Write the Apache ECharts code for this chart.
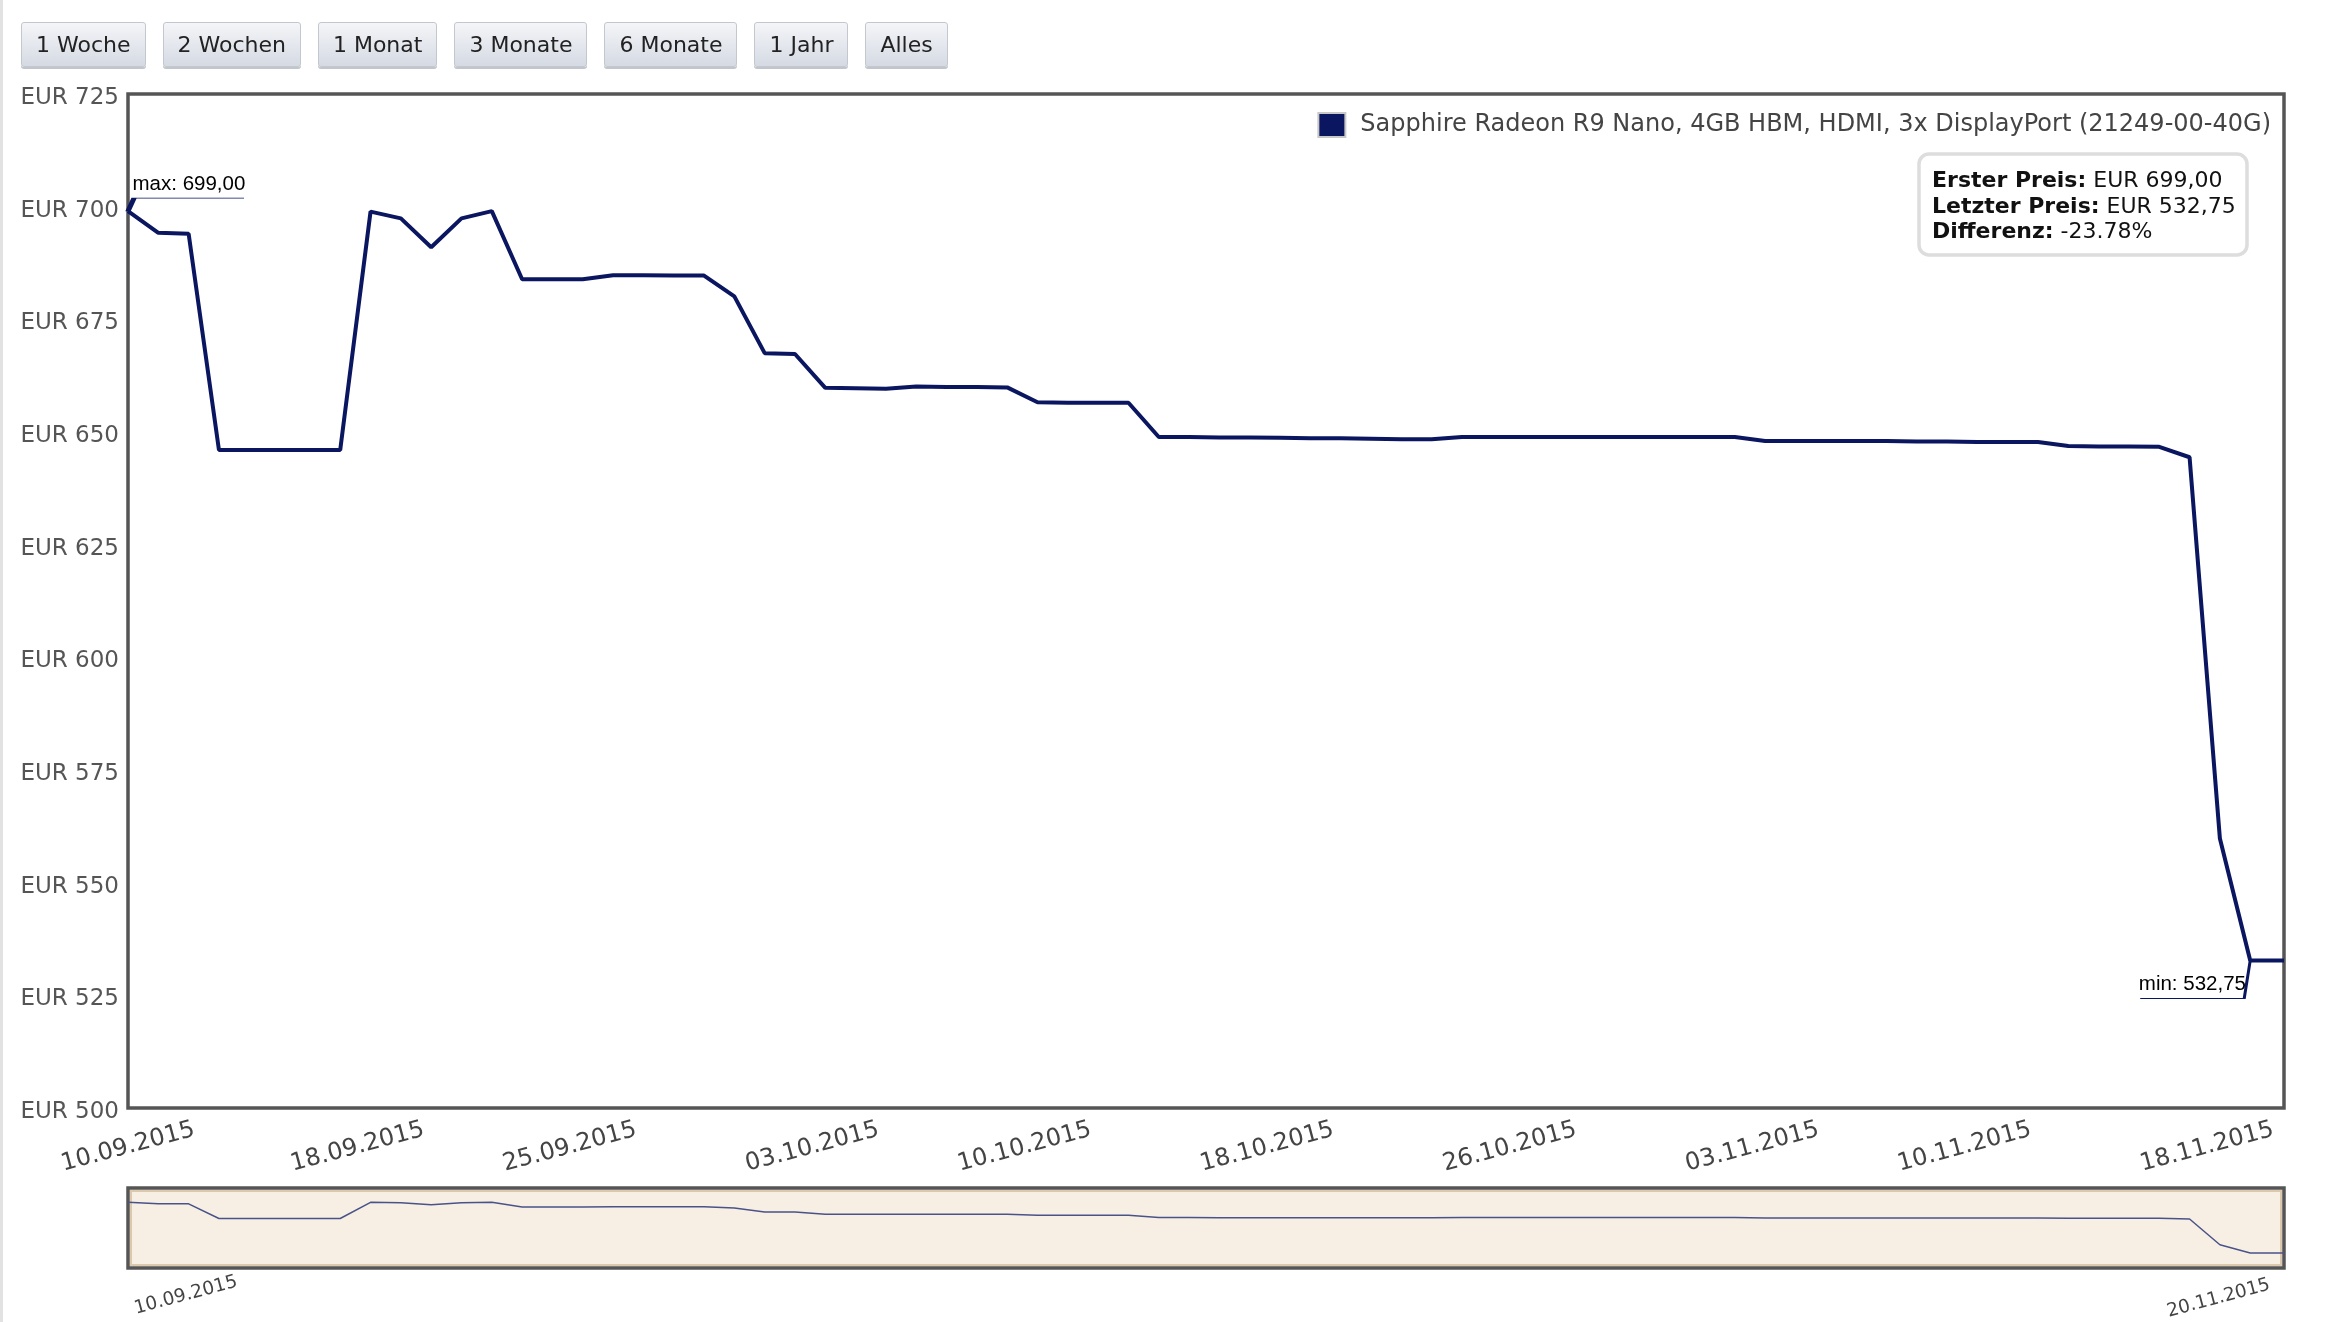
<!DOCTYPE html>
<html>
<head>
<meta charset="utf-8">
<title>Preisverlauf</title>
<script src="https://cdn.jsdelivr.net/npm/echarts@6/dist/echarts.min.js"></script>
<style>
  html, body { margin: 0; padding: 0; background: #fff; }
  body { width: 2336px; height: 1322px; position: relative; overflow: hidden; }
  #chart { position: absolute; left: 0; top: 0; width: 2336px; height: 1322px; }
  #edge { position: absolute; left: 0; top: 0; width: 3px; height: 1322px; background: #e2e2e2; }
  #ranges { position: absolute; left: 21px; top: 22px; display: flex; gap: 17px; }
  .btn {
    height: 45px; line-height: 43px; box-sizing: border-box; padding: 0 14px;
    font-family: "DejaVu Sans", sans-serif; font-size: 22px; color: #222;
    border: 1.5px solid #c3c8d0; border-radius: 3px;
    background: linear-gradient(#f4f5f8, #d5dae3);
    box-shadow: 0 2px 0 #c2c6cc;
  }
</style>
</head>
<body>
<div id="chart"></div>
<div id="edge"></div>
<div id="ranges"></div>
<script>
// Preisverlauf Sapphire Radeon R9 Nano
const seriesName = 'Sapphire Radeon R9 Nano, 4GB HBM, HDMI, 3x DisplayPort (21249-00-40G)';
const rangeButtons = ['1 Woche', '2 Wochen', '1 Monat', '3 Monate', '6 Monate', '1 Jahr', 'Alles'];

const dates = [
  '2015-09-10 10:15', '2015-09-11 10:15', '2015-09-12 10:15', '2015-09-13 10:15', '2015-09-14 10:15',
  '2015-09-15 10:15', '2015-09-16 10:15', '2015-09-17 10:15', '2015-09-18 10:15', '2015-09-19 10:15',
  '2015-09-20 10:15', '2015-09-21 10:15', '2015-09-22 10:15', '2015-09-23 10:15', '2015-09-24 10:15',
  '2015-09-25 10:15', '2015-09-26 10:15', '2015-09-27 10:15', '2015-09-28 10:15', '2015-09-29 10:15',
  '2015-09-30 10:15', '2015-10-01 10:15', '2015-10-02 10:15', '2015-10-03 10:15', '2015-10-04 10:15',
  '2015-10-05 10:15', '2015-10-06 10:15', '2015-10-07 10:15', '2015-10-08 10:15', '2015-10-09 10:15',
  '2015-10-10 10:15', '2015-10-11 10:15', '2015-10-12 10:15', '2015-10-13 10:15', '2015-10-14 10:15',
  '2015-10-15 10:15', '2015-10-16 10:15', '2015-10-17 10:15', '2015-10-18 10:15', '2015-10-19 10:15',
  '2015-10-20 10:15', '2015-10-21 10:15', '2015-10-22 10:15', '2015-10-23 10:15', '2015-10-24 10:15',
  '2015-10-25 10:15', '2015-10-26 10:15', '2015-10-27 10:15', '2015-10-28 10:15', '2015-10-29 10:15',
  '2015-10-30 10:15', '2015-10-31 10:15', '2015-11-01 10:15', '2015-11-02 10:15', '2015-11-03 10:15',
  '2015-11-04 10:15', '2015-11-05 10:15', '2015-11-06 10:15', '2015-11-07 10:15', '2015-11-08 10:15',
  '2015-11-09 10:15', '2015-11-10 10:15', '2015-11-11 10:15', '2015-11-12 10:15', '2015-11-13 10:15',
  '2015-11-14 10:15', '2015-11-15 10:15', '2015-11-16 10:15', '2015-11-17 10:15', '2015-11-18 10:15',
  '2015-11-19 10:15', '2015-11-20 13:00'
];

const prices = [
  699.00, 694.2, 694.0, 646.0, 646.0, 646.0, 646.0, 646.0, 698.9, 697.4,
  691.0, 697.4, 699.0, 683.9, 683.9, 683.9, 684.8, 684.8, 684.7, 684.7,
  680.1, 667.5, 667.3, 659.8, 659.7, 659.6, 660.1, 660.0, 660.0, 659.9,
  656.6, 656.5, 656.5, 656.5, 648.9, 648.9, 648.8, 648.8, 648.7, 648.6,
  648.6, 648.5, 648.4, 648.4, 648.9, 648.9, 648.9, 648.9, 648.9, 648.9,
  648.9, 648.9, 648.9, 648.9, 648.0, 648.0, 648.0, 648.0, 648.0, 647.9,
  647.9, 647.8, 647.8, 647.8, 646.9, 646.8, 646.8, 646.7, 644.4, 559.8,
  532.75, 532.75
];

const tickLabels = ['10.09.2015', '18.09.2015', '25.09.2015', '03.10.2015', '10.10.2015',
  '18.10.2015', '26.10.2015', '03.11.2015', '10.11.2015', '18.11.2015'];
const yMin = 500, yMax = 725, yStep = 25;
const navMin = 484, navMax = 746;

const lineColor = '#0b1660';
const font = 'DejaVu Sans';

rangeButtons.forEach(function (b) {
  const el = document.createElement('div');
  el.className = 'btn';
  el.textContent = b;
  document.getElementById('ranges').appendChild(el);
});

function parseDE(s) {
  const p = s.split('.');
  return new Date(+p[2], +p[1] - 1, +p[0]).getTime();
}
function parseISO(s) {
  const m = s.split(/[- :]/);
  return new Date(+m[0], +m[1] - 1, +m[2], +m[3], +m[4]).getTime();
}
function euro(v) {
  return v.toFixed(2).replace('.', ',');
}
function pad(n) { return (n < 10 ? '0' : '') + n; }
function fmtDate(v) {
  const d = new Date(v);
  return pad(d.getDate()) + '.' + pad(d.getMonth() + 1) + '.' + d.getFullYear();
}

const times = dates.map(parseISO);
const xMin = times[0];
const xMax = times[times.length - 1];
const tickValues = tickLabels.map(parseDE);
tickValues[0] = xMin;

const lineData = times.map(function (t, i) { return [t, prices[i]]; });

const maxV = Math.max.apply(null, prices);
const minV = Math.min.apply(null, prices);
const iMax = prices.indexOf(maxV);
const iMin = prices.indexOf(minV);
const first = prices[0];
const last = prices[prices.length - 1];
const diff = ((last - first) / first * 100).toFixed(2);

const chart = echarts.init(document.getElementById('chart'), null, { renderer: 'canvas' });

const option = {
  animation: false,
  backgroundColor: '#fff',
  textStyle: { fontFamily: font },
  grid: [
    { left: 128, right: 52, top: 94, height: 1014, show: true, borderColor: '#555', borderWidth: 3.5, backgroundColor: '#fff', z: 1 },
    { left: 128, right: 52, top: 1188, height: 80, show: true, borderColor: '#555', borderWidth: 3.5, backgroundColor: '#f7efe4', z: 1 },
    { left: 131, right: 55, top: 1191, height: 74, show: true, borderColor: '#dcc8ad', borderWidth: 2, backgroundColor: 'transparent', z: 2 }
  ],
  legend: {
    data: [seriesName],
    right: 60,
    top: 107,
    icon: 'rect',
    itemWidth: 27,
    itemHeight: 24,
    itemStyle: { borderColor: '#c8c8c8', borderWidth: 2 },
    textStyle: { fontSize: 24, color: '#444', fontFamily: font, padding: [0, 0, 0, 10] }
  },
  xAxis: [
    {
      type: 'value', gridIndex: 0, min: xMin, max: xMax,
      axisLine: { show: false },
      axisTick: { show: false, customValues: tickValues },
      axisLabel: {
        customValues: tickValues,
        formatter: fmtDate,
        rotate: 15, align: 'center', verticalAlign: 'middle', margin: 39,
        fontSize: 24, color: '#444', fontFamily: font
      },
      splitLine: { show: true, lineStyle: { color: '#d6d6d6', width: 1.5 } }
    },
    {
      type: 'value', gridIndex: 1, min: xMin, max: xMax,
      axisLine: { show: false },
      axisTick: { show: false, customValues: [xMin, xMax] },
      axisLabel: {
        customValues: [xMin, xMax],
        formatter: function (v) {
          return v === xMin ? '{lo|' + fmtDate(v) + '}' : '{hi|' + fmtDate(v) + '}';
        },
        rich: {
          lo: { fontSize: 18.5, color: '#444', fontFamily: font, padding: [52, 0, 0, 0] },
          hi: { fontSize: 18.5, color: '#444', fontFamily: font, padding: [0, 14, 6, 0] }
        },
        rotate: 15, verticalAlign: 'middle', margin: 16,
        alignMinLabel: 'left', alignMaxLabel: 'right',
        fontSize: 18.5, color: '#444', fontFamily: font
      },
      splitLine: { show: false }
    },
    { type: 'value', gridIndex: 2, show: false }
  ],
  yAxis: [
    {
      type: 'value', gridIndex: 0, min: yMin, max: yMax, interval: yStep,
      axisLine: { show: false },
      axisTick: { show: false },
      axisLabel: {
        formatter: function (v) { return '{a|EUR ' + v + '}'; },
        rich: { a: { fontSize: 23, color: '#555', fontFamily: font, padding: [8, 0, 0, 0] } },
        margin: 9, fontSize: 23, color: '#555', fontFamily: font
      },
      splitLine: { show: true, lineStyle: { color: '#d6d6d6', width: 1.5 } }
    },
    { type: 'value', gridIndex: 1, min: navMin, max: navMax, show: false },
    { type: 'value', gridIndex: 2, show: false }
  ],
  series: [
    {
      name: seriesName,
      type: 'line',
      xAxisIndex: 0, yAxisIndex: 0,
      data: lineData,
      showSymbol: false,
      color: lineColor,
      lineStyle: { color: lineColor, width: 4 },
      z: 5,
      markPoint: {
        silent: true,
        itemStyle: { color: 'none', borderColor: lineColor, borderWidth: 1.8 },
        label: { show: true, color: '#000', fontSize: 20.5, fontFamily: 'Liberation Sans' },
        data: [
          {
            coord: [times[iMax], maxV],
            symbol: 'path://M0,13L6,0L116,0',
            symbolSize: [116, 13],
            symbolOffset: [58, -6.5],
            label: { formatter: 'max: ' + euro(maxV), position: [12, -2], align: 'left', verticalAlign: 'bottom' }
          },
          {
            coord: [times[iMin], minV],
            symbol: 'path://M110,0L104,38L0,38',
            symbolSize: [110, 38],
            symbolOffset: [-55, 19],
            label: { formatter: 'min: ' + euro(minV), position: [110, 36], align: 'right', verticalAlign: 'bottom' }
          }
        ]
      }
    },
    {
      name: 'Navigator',
      type: 'line',
      xAxisIndex: 1, yAxisIndex: 1,
      data: lineData,
      showSymbol: false,
      silent: true,
      lineStyle: { color: '#4a5389', width: 1.5 },
      z: 3
    }
  ],
  graphic: [
    {
      type: 'rect',
      x: 1919,
      y: 154,
      z: 100,
      shape: { x: 0, y: 0, width: 328, height: 101, r: 10 },
      style: { fill: 'rgba(255,255,255,0.92)', stroke: '#dddddd', lineWidth: 3.5 }
    },
    {
      type: 'text',
      x: 1932,
      y: 169,
      z: 101,
      style: {
        text: '{b|Erster Preis:} EUR ' + euro(first) + '\n{b|Letzter Preis:} EUR ' + euro(last) + '\n{b|Differenz:} ' + diff + '%',
        fontSize: 22,
        lineHeight: 25.5,
        fill: '#111',
        fontFamily: font,
        rich: {
          b: { fontWeight: 'bold', fontSize: 22, lineHeight: 25.5, fill: '#111', fontFamily: font }
        }
      }
    }
  ]
};

chart.setOption(option);
</script>
</body>
</html>
